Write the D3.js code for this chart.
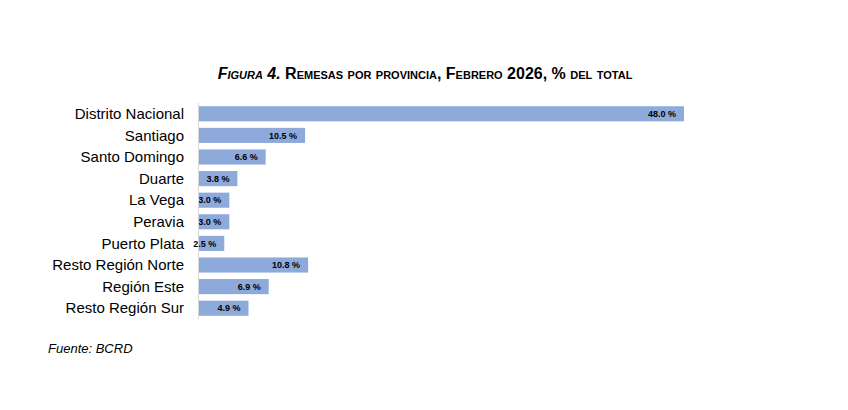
<!DOCTYPE html>
<html><head><meta charset="utf-8">
<script src="https://cdn.jsdelivr.net/npm/d3@7"></script>
<style>body{margin:0;background:#fff}</style>
</head><body>
<script>
// data
var provincias = ["Distrito Nacional","Santiago","Santo Domingo","Duarte","La Vega","Peravia","Puerto Plata","Resto Región Norte","Región Este","Resto Región Sur"];
var valores = [48.0,10.5,6.6,3.8,3.0,3.0,2.5,10.8,6.9,4.9];

var svg = d3.select("body").append("svg")
    .attr("width", 848)
    .attr("height", 410)
    .style("font-family", "'Liberation Sans', Arial, sans-serif");

// title
var t = svg.append("text")
    .attr("x", 425).attr("y", 79)
    .attr("text-anchor", "middle")
    .style("font-size", "16px")
    .style("font-weight", "bold")
    .style("font-variant", "small-caps");
t.append("tspan").style("font-style", "italic").text("Figura 4.");
t.append("tspan").text(" Remesas por provincia, Febrero 2026, % del total");

var x = d3.scaleLinear().domain([0, 48]).range([199, 684]);
var y = d3.scaleBand().domain(provincias).range([103, 319]).paddingInner(0.3).paddingOuter(0.15);

svg.selectAll("rect.bar")
    .data(valores)
    .enter().append("rect")
    .attr("class", "bar")
    .attr("x", x(0))
    .attr("y", function(d, i) { return y(provincias[i]); })
    .attr("width", function(d) { return x(d) - x(0); })
    .attr("height", y.bandwidth())
    .style("fill", "#8eaadb");

// value labels
svg.selectAll("text.val")
    .data(valores)
    .enter().append("text")
    .attr("class", "val")
    .attr("x", function(d) { return x(d) - 8; })
    .attr("y", function(d, i) { return y(provincias[i]) + y.bandwidth() / 2; })
    .attr("dy", "0.35em")
    .attr("text-anchor", "end")
    .style("font-size", "9px")
    .style("font-weight", "bold")
    .text(function(d) { return d.toFixed(1) + " %"; });

// category labels
svg.selectAll("text.cat")
    .data(provincias)
    .enter().append("text")
    .attr("class", "cat")
    .attr("x", 184)
    .attr("y", function(d) { return y(d) + y.bandwidth() / 2; })
    .attr("dy", "0.35em")
    .attr("text-anchor", "end")
    .style("font-size", "15px")
    .text(function(d) { return d; });

// axis line
svg.append("line")
    .attr("x1", 198.5).attr("x2", 198.5)
    .attr("y1", 103).attr("y2", 319)
    .style("stroke", "#d9d9d9");

svg.append("text")
    .attr("x", 48).attr("y", 353)
    .style("font-size", "13px")
    .style("font-style", "italic")
    .text("Fuente: BCRD");
</script>
</body></html>
